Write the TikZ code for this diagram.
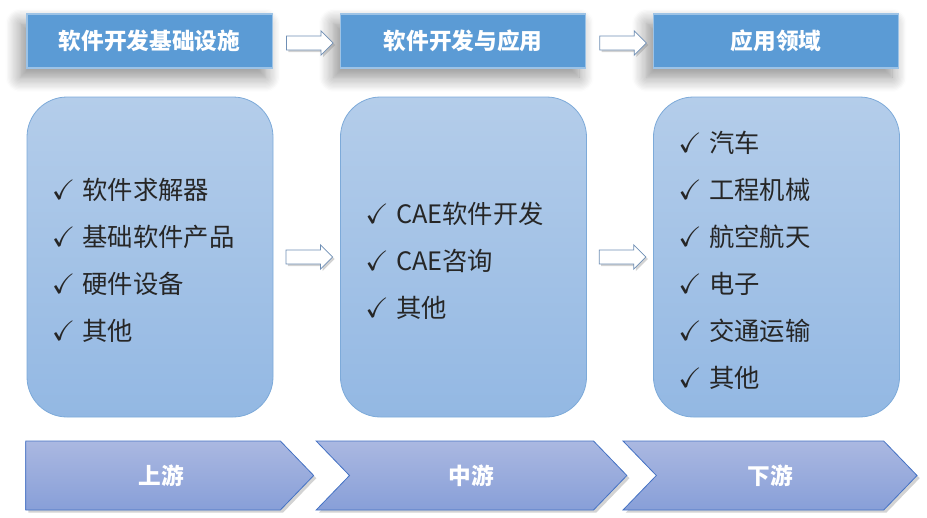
\documentclass[tikz,border=0pt]{standalone}
\usepackage{amssymb}
\usepackage{fontspec}
\setmainfont{Noto Sans CJK SC}
\usetikzlibrary{shapes.arrows, shapes.symbols, shadows.blur, calc, positioning}
\definecolor{hdrblue}{HTML}{5B9BD5}
\definecolor{hdrline}{HTML}{9DC3E6}
\definecolor{paneltop}{HTML}{B4CDEA}
\definecolor{panelbot}{HTML}{93B8E3}
\definecolor{panelline}{HTML}{7DAAD9}
\definecolor{stagetop}{HTML}{AAB8E1}
\definecolor{stagebot}{HTML}{889FD8}
\definecolor{stageline}{HTML}{4472C4}
\definecolor{arrowline}{HTML}{6F8FB5}
\newcommand{\chk}{\makebox[23pt][l]{\fontsize{21}{21}\selectfont$\checkmark$}}
\tikzset{
    header/.style={rectangle, minimum width=184pt, minimum height=40.5pt, text centered, draw=hdrline, line width=1pt, fill=hdrblue, text=white, font=\fontsize{17}{20}\selectfont\bfseries, blur shadow={shadow xshift=-5pt, shadow yshift=-7pt, shadow scale=1.0, shadow blur radius=11pt, shadow blur steps=12, shadow opacity=45}},
    panel/.style={rectangle, rounded corners=30pt, minimum width=184.5pt, minimum height=240pt, draw=panelline, line width=0.6pt, top color=paneltop, bottom color=panelbot},
    items/.style={align=left, anchor=west, inner sep=0pt, font=\fontsize{19}{35.25}\selectfont, text=black!85},
    blockarrow/.style={single arrow, draw=arrowline, fill=white, line width=0.6pt, minimum height=35pt, inner xsep=0pt, inner ysep=5pt, single arrow head extend=3.75pt, drop shadow={shadow xshift=1.5pt, shadow yshift=-1.5pt, opacity=0.35}},
    stage/.style={signal, signal to=east, signal from=west, signal pointer angle=92, draw=stageline, line width=0.6pt, top color=stagetop, bottom color=stagebot, minimum height=51.75pt, inner sep=0pt, text=white, font=\fontsize{17}{20}\selectfont\bfseries, drop shadow={shadow xshift=2pt, shadow yshift=-2pt, opacity=0.35}}
}

\begin{document}
\begin{tikzpicture}[x=0.75pt, y=-0.75pt]
\useasboundingbox (0,0) rectangle (927,517);

% Nodes
\node (h1) [header] at (149.5,41) {软件开发基础设施};
\node (h2) [header] at (463,41) {软件开发与应用};
\node (h3) [header] at (776,41) {应用领域};

\node (p1) [panel] at (150,257) {};
\node (p2) [panel] at (463.5,257) {};
\node (p3) [panel] at (776.5,257) {};

\node (l1) [items] at ($(p1.west)+(25,3)$) {\chk 软件求解器\\ \chk 基础软件产品\\ \chk 硬件设备\\ \chk 其他};
\node (l2) [items] at ($(p2.west)+(25,4)$) {\chk CAE软件开发\\ \chk CAE咨询\\ \chk 其他};
\node (l3) [items] at ($(p3.west)+(25,3)$) {\chk 汽车\\ \chk 工程机械\\ \chk 航空航天\\ \chk 电子\\ \chk 交通运输\\ \chk 其他};

\node (s1) [stage, signal from=nowhere, minimum width=216pt] at (153,475.5) {\hspace*{12pt}上游};
\node (s2) [stage, minimum width=233pt] at (471.5,475.5) {中游};
\node (s3) [stage, minimum width=220.5pt] at (770,475.5) {下游};

% Connectors
\node (a1) [blockarrow] at ($(h1.east)!0.5!(h2.west)+(0,2)$) {};
\node (a2) [blockarrow] at ($(h2.east)!0.5!(h3.west)+(0,2)$) {};
\node (a3) [blockarrow] at ($(p1.east)!0.5!(p2.west)+(-1,0)$) {};
\node (a4) [blockarrow] at ($(p2.east)!0.5!(p3.west)+(-1,0)$) {};

\end{tikzpicture}
\end{document}
